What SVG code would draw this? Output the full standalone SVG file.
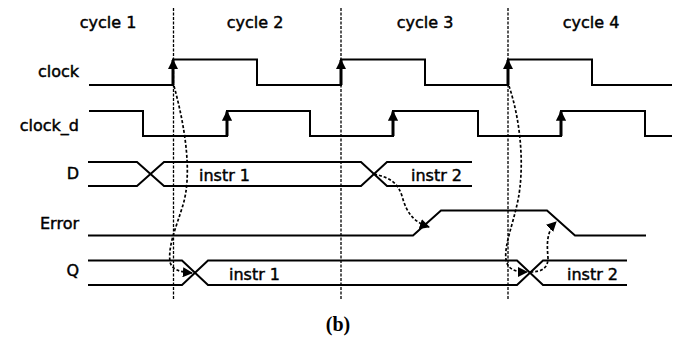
<svg xmlns="http://www.w3.org/2000/svg" width="674" height="343" viewBox="0 0 674 343">
<defs>
<style>
.lbl{font-family:"DejaVu Sans",Verdana,sans-serif;font-size:16px;fill:#000;stroke:#000;stroke-width:0.45}
.sig{fill:none;stroke:#000;stroke-width:2}
.grid{fill:none;stroke:#000;stroke-width:1.3;stroke-dasharray:3,1.5}
.dep{fill:none;stroke:#000;stroke-width:1.7;stroke-dasharray:3,2}
.edge{stroke:#000;stroke-width:3}
</style>
<marker id="ah" viewBox="0 0 10 10" refX="9" refY="5" markerWidth="6" markerHeight="6" orient="auto" markerUnits="strokeWidth">
<path d="M0,0 L10,5 L0,10 z" fill="#000"/>
</marker>
<marker id="up" viewBox="0 0 10 10" refX="9" refY="5" markerWidth="3.4" markerHeight="3.4" orient="auto" markerUnits="strokeWidth">
<path d="M0,0 L10,5 L0,10 z" fill="#000"/>
</marker>
</defs>
<rect width="674" height="343" fill="#fff"/>
<g id="cycles">
<text class="lbl" x="108" y="28" text-anchor="middle">cycle 1</text>
<text class="lbl" x="255" y="28" text-anchor="middle">cycle 2</text>
<text class="lbl" x="425" y="28" text-anchor="middle">cycle 3</text>
<text class="lbl" x="591" y="28" text-anchor="middle">cycle 4</text>
</g>
<g id="clock">
<text class="lbl" x="79" y="77" text-anchor="end">clock</text>
<polyline class="sig" points="89,85 173,85 173,59.5 257,59.5 257,85 341,85 341,59.5 425,59.5 425,85 508,85 508,59.5 592,59.5 592,85 672,85"/>
</g>
<g id="clock_d">
<text class="lbl" x="79" y="131" text-anchor="end">clock_d</text>
<polyline class="sig" points="89,111 143,111 143,136 227,136 227,111 310,111 310,136 393,136 393,111 478,111 478,136 561,136 561,111 645,111 645,136 672,136"/>
</g>
<g id="D">
<text class="lbl" x="79" y="179" text-anchor="end">D</text>
<polyline class="sig" points="88,162 137,162 164,186 341,186"/>
<polyline class="sig" points="88,186 137,186 164,162 341,162"/>
<polyline class="sig" points="341,162 361,162 387,186 472,186"/>
<polyline class="sig" points="341,186 361,186 387,162 472,162"/>
<text class="lbl" x="199" y="181">instr 1</text>
<text class="lbl" x="411" y="181">instr 2</text>
</g>
<g id="Error">
<text class="lbl" x="79" y="229" text-anchor="end">Error</text>
<polyline class="sig" points="88,235.5 413,235.5 441,210.5 547,210.5 575,235.5 646,235.5"/>
</g>
<g id="Q">
<text class="lbl" x="79" y="276" text-anchor="end">Q</text>
<polyline class="sig" points="88,260.5 182,260.5 208,285 517,285 543,260.5 627,260.5"/>
<polyline class="sig" points="88,285 182,285 208,260.5 517,260.5 543,285 627,285"/>
<text class="lbl" x="229" y="280">instr 1</text>
<text class="lbl" x="567" y="280">instr 2</text>
</g>
<g id="connectors">
<line class="grid" x1="173.5" y1="8" x2="173.5" y2="300"/>
<line class="grid" x1="341" y1="8" x2="341" y2="300"/>
<line class="grid" x1="508" y1="8" x2="508" y2="300"/>
<line class="edge" x1="173" y1="85" x2="173" y2="60" marker-end="url(#up)"/>
<line class="edge" x1="341" y1="85" x2="341" y2="60" marker-end="url(#up)"/>
<line class="edge" x1="508" y1="85" x2="508" y2="60" marker-end="url(#up)"/>
<line class="edge" x1="227" y1="136" x2="227" y2="111.5" marker-end="url(#up)"/>
<line class="edge" x1="393" y1="136" x2="393" y2="111.5" marker-end="url(#up)"/>
<line class="edge" x1="561" y1="136" x2="561" y2="111.5" marker-end="url(#up)"/>
<path class="dep" d="M174,86 C186,130 192,175 183,205 C176,228 168,245 170,262 C172,270 180,272 192,273" marker-end="url(#ah)"/>
<path class="dep" d="M374,174 C392,178 398,184 402,196 C407,214 414,222 429,227" marker-end="url(#ah)"/>
<path class="dep" d="M509,86 C522,125 524,170 518,200 C513,225 504,245 506,260 C508,270 516,272 527,272" marker-end="url(#ah)"/>
<path class="dep" d="M530,272 C542,272 548,268 548,258 C547,245 546,232 556,222" marker-end="url(#ah)"/>
</g>
<text x="338" y="331" text-anchor="middle" font-family="Liberation Serif,serif" font-weight="bold" font-size="20">(b)</text>
</svg>
